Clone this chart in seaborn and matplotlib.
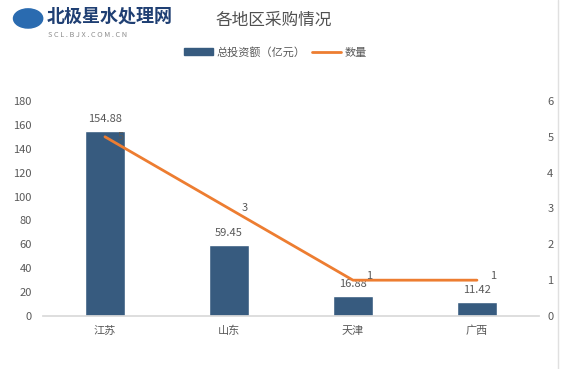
import numpy as np
import pandas as pd
import matplotlib.pyplot as plt
import seaborn as sns
from matplotlib.patches import Patch, Circle
from matplotlib.lines import Line2D

regions = ['江苏', '山东', '天津', '广西']
investment = [154.88, 59.45, 16.88, 11.42]
counts = [5, 3, 1, 1]

sns.set_theme(style="white")
plt.rcParams['font.family'] = ['Noto Sans CJK SC', 'DejaVu Sans']

bar_color = '#375b7f'
line_color = '#ed7d31'
text_gray = '#595959'

df = pd.DataFrame({'region': regions, 'investment': investment, 'count': counts})

fig = plt.figure(figsize=(5.62, 3.69), dpi=100)
ax = fig.add_axes([0.0765, 0.1436, 0.8825, 0.5828])

sns.barplot(data=df, x='region', y='investment', color=bar_color, width=0.32,
            saturation=1, ax=ax)
ax.set_ylim(0, 180)
ax.set_yticks(range(0, 181, 20))
ax.set_xlim(-0.5, len(regions) - 0.5)
ax.set_xlabel('')
ax.set_ylabel('')
for s in ['top', 'right', 'left']:
    ax.spines[s].set_visible(False)
ax.spines['bottom'].set_color('#d9d9d9')
ax.tick_params(axis='both', length=0, colors=text_gray, labelsize=8)
ax.tick_params(axis='y', pad=8)
ax.tick_params(axis='x', pad=7)

for i, v in enumerate(investment):
    ax.text(i, v + 6, f'{v:.2f}', ha='center', va='bottom', fontsize=8, color=text_gray)

ax2 = ax.twinx()
sns.lineplot(x=np.arange(len(regions)), y=counts, color=line_color, linewidth=2, ax=ax2)
ax2.set_ylim(0, 6)
ax2.set_yticks(range(0, 7))
ax2.set_xlim(-0.5, len(regions) - 0.5)
for s in ax2.spines.values():
    s.set_visible(False)
ax2.tick_params(axis='y', length=0, colors=text_gray, labelsize=8, pad=6)
for i, c in enumerate(counts):
    # small lift for the low points so they don't sit on the bar labels
    dy = 0.12 if c < 2 else 0
    ax2.text(i + 0.13, c + dy, str(c), ha='center', va='center', fontsize=8, color=text_gray)

# title and logo
fig.text(0.383, 0.945, '各地区采购情况', fontsize=12, fontweight='medium', color='#505050',
         ha='left', va='center')
fig.patches.append(Circle((0.05, 0.95), 0.026, transform=fig.transFigure,
                          color='#2a6bb0', figure=fig))
fig.text(0.083, 0.957, '北极星水处理网', fontsize=13, fontweight='bold', style='italic',
         color='#1f3f73', ha='left', va='center')
fig.text(0.086, 0.905, 'S C L . B J X . C O M . C N', fontsize=5.3, color='#8c8c8c',
         ha='left', va='center')

handles = [Patch(color=bar_color), Line2D([0], [0], color=line_color, lw=2)]
fig.legend(handles, ['总投资额（亿元）', '数量'], loc='center', bbox_to_anchor=(0.49, 0.858),
           ncol=2, frameon=False, fontsize=8, handlelength=2.6, handleheight=0.6,
           columnspacing=0.6, handletextpad=0.3, labelcolor=text_gray)

fig.add_artist(Line2D([0.993, 0.993], [0, 1], color='#e0e0e0', lw=1))

plt.savefig('out.png', dpi=100)
